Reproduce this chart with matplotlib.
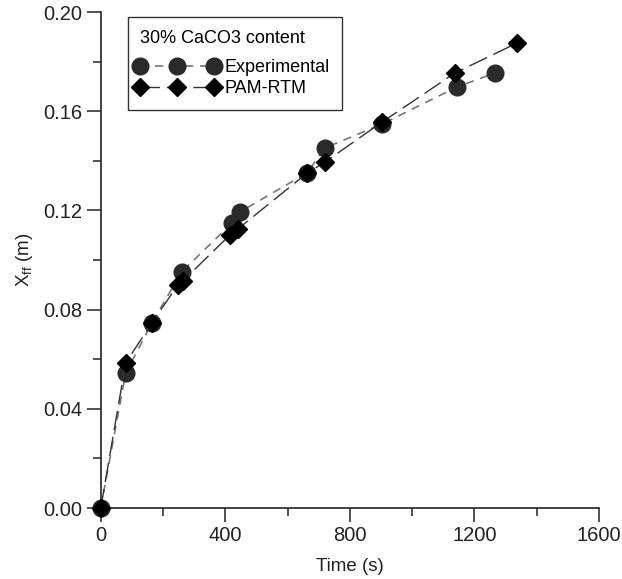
import matplotlib.pyplot as plt
from matplotlib.ticker import MultipleLocator
from matplotlib.legend_handler import HandlerLine2D

plt.rcParams['font.family'] = ['Liberation Sans', 'DejaVu Sans']
plt.rcParams['mathtext.fontset'] = 'custom'
plt.rcParams['mathtext.rm'] = 'Liberation Sans'

# Experimental data
t_exp = [0, 80, 164, 260, 421, 447, 662, 720, 903, 1144, 1266]
x_exp = [0.0, 0.0544, 0.0746, 0.0952, 0.1149, 0.1194, 0.1351, 0.1452, 0.1548, 0.1698, 0.1754]

# PAM-RTM model
t_mod = [0, 80, 164, 247, 263, 414, 440, 662, 720, 903, 1137, 1337]
x_mod = [0.0, 0.0585, 0.0746, 0.0899, 0.0915, 0.110, 0.1125, 0.135, 0.1395, 0.1556, 0.1754, 0.1875]

fig = plt.figure(figsize=(6.22, 5.79), dpi=100)
ax = fig.add_axes([0.162, 0.1226, 0.801, 0.8566])

ln_mod, = ax.plot(t_mod, x_mod, color='#333333', lw=1.0, dashes=(14, 5),
                  marker='D', markersize=9.5, markerfacecolor='black', markeredgecolor='black',
                  clip_on=False, zorder=3, label='PAM-RTM')
ln_exp, = ax.plot(t_exp, x_exp, color='#777777', lw=1.2, dashes=(5, 4),
                  marker='o', markersize=12, markerfacecolor='#2a2a2a', markeredgecolor='#2a2a2a',
                  clip_on=False, zorder=2, label='Experimental')

ax.set_xlim(0, 1600)
ax.set_ylim(0, 0.2)
ax.xaxis.set_major_locator(MultipleLocator(400))
ax.xaxis.set_minor_locator(MultipleLocator(200))
ax.yaxis.set_major_locator(MultipleLocator(0.04))
ax.yaxis.set_minor_locator(MultipleLocator(0.02))
ax.yaxis.set_major_formatter(plt.FuncFormatter(lambda v, p: f'{v:.2f}'))

for s in ['top', 'right']:
    ax.spines[s].set_visible(False)
for s in ['left', 'bottom']:
    ax.spines[s].set_color('#222222')
    ax.spines[s].set_linewidth(1.2)

ax.tick_params(which='major', direction='out', length=10, width=1.1, labelsize=14.5,
               colors='#222222', pad=3)
ax.tick_params(which='minor', direction='out', length=6, width=1.1, colors='#222222')

ax.set_xlabel('Time (s)', fontsize=13.5, color='#222222', labelpad=9)
ax.set_ylabel(r'X$_{\rm ff}$ (m)', fontsize=13.5, color='#222222', labelpad=6)

hm = {ln_exp: HandlerLine2D(marker_pad=0), ln_mod: HandlerLine2D(marker_pad=0)}
leg = ax.legend([ln_exp, ln_mod], ['Experimental', 'PAM-RTM'], title='30% CaCO3 content',
                loc='upper left', bbox_to_anchor=(0.054, 0.99), numpoints=3,
                handlelength=4.1, handler_map=hm,
                fontsize=13, title_fontsize=13, frameon=True, fancybox=False,
                edgecolor='black', borderpad=0.7, labelspacing=0.22,
                handletextpad=0.55, borderaxespad=0, alignment='left')
leg._legend_box.sep = 9
leg.get_frame().set_linewidth(1.0)

fig.savefig('out.png', dpi=100)
